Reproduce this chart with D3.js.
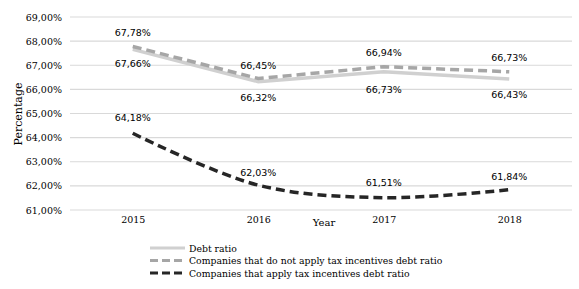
<!DOCTYPE html>
<html><head><meta charset="utf-8">
<script src="https://cdn.jsdelivr.net/npm/d3@7/dist/d3.min.js"></script>
<style>body{margin:0;background:#fff}</style>
</head><body>
<svg id="c" width="579" height="289"></svg>
<script>
const years = ["2015","2016","2017","2018"];
const debtRatio = [67.66, 66.32, 66.73, 66.43];
const notApply = [67.78, 66.45, 66.94, 66.73];
const applyTax = [64.18, 62.03, 61.51, 61.84];
const yTicks = [61,62,63,64,65,66,67,68,69];
const seriesNames = ["Debt ratio","Companies that do not apply tax incentives debt ratio","Companies that apply tax incentives debt ratio"];

(function(){
const svg = d3.select("#c");
const mLeft = 70, mRight = 572, mTop = 17, mBottom = 210;
const x = d3.scalePoint().domain(years).range([mLeft, mRight]).padding(0.5);
const y = d3.scaleLinear().domain([61, 69]).range([mBottom, mTop]);
const serif = "'DejaVu Serif', serif";
const sans = "'DejaVu Sans', sans-serif";
const fmt = v => v.toFixed(2).replace(".", ",") + "%";

svg.append("g").selectAll("line").data(yTicks).join("line")
  .attr("x1", mLeft).attr("x2", mRight)
  .attr("y1", d => y(d)).attr("y2", d => y(d))
  .attr("stroke", "#d9d9d9").attr("stroke-width", 1.2);

const yAxis = d3.axisLeft(y).tickValues(yTicks).tickSize(0).tickPadding(8).tickFormat(d => fmt(d));
const gy = svg.append("g").attr("transform", `translate(${mLeft},0)`).call(yAxis);
gy.select(".domain").remove();
gy.selectAll("text").attr("font-family", serif).attr("font-size", 9.5).attr("fill", "#000");

const xAxis = d3.axisBottom(x).tickSize(0).tickPadding(6);
const gx = svg.append("g").attr("transform", `translate(0,${mBottom})`).call(xAxis);
gx.select(".domain").remove();
gx.selectAll("text").attr("font-family", serif).attr("font-size", 9.5).attr("fill", "#000");

svg.append("text").attr("x", 324).attr("y", 226).attr("text-anchor", "middle")
  .attr("font-family", serif).attr("font-size", 10).text("Year");
svg.append("text").attr("transform", "translate(22,114) rotate(-90)").attr("text-anchor", "middle")
  .attr("font-family", serif).attr("font-size", 11).text("Percentage");

const styles = [
  {data: debtRatio, color: "#d0d0d0", dash: null, w: 3.5, curve: d3.curveLinear},
  {data: notApply, color: "#a6a6a6", dash: "9,5", w: 3.5, curve: d3.curveLinear},
  {data: applyTax, color: "#262626", dash: "9,5", w: 3.5, curve: d3.curveCatmullRom.alpha(0.5)}
];
styles.forEach(s => {
  const line = d3.line().x((d, i) => x(years[i])).y(d => y(d)).curve(s.curve);
  svg.append("path").datum(s.data).attr("d", line).attr("fill", "none")
    .attr("stroke", s.color).attr("stroke-width", s.w)
    .attr("stroke-dasharray", s.dash);
});

function labels(data, offsets) {
  svg.append("g").selectAll("text").data(data).join("text")
    .attr("x", (d, i) => x(years[i]))
    .attr("y", (d, i) => y(d) + offsets[i])
    .attr("text-anchor", "middle").attr("font-family", sans).attr("font-size", 9.5)
    .attr("fill", "#000").text(d => fmt(d));
}
labels(notApply, [-10, -10, -11, -11]);
labels(debtRatio, [18, 19, 21, 19]);
labels(applyTax, [-12, -9, -12, -10]);

const lg = svg.append("g");
styles.forEach((s, i) => {
  const yy = 248 + i * 12.5;
  lg.append("line").attr("x1", 150).attr("x2", 185).attr("y1", yy).attr("y2", yy)
    .attr("stroke", s.color).attr("stroke-width", 3).attr("stroke-dasharray", s.dash ? "8,4" : null);
  lg.append("text").attr("x", 189).attr("y", yy + 3.5).attr("font-family", serif)
    .attr("font-size", 9.3).text(seriesNames[i]);
});
})();
</script>
</body></html>
